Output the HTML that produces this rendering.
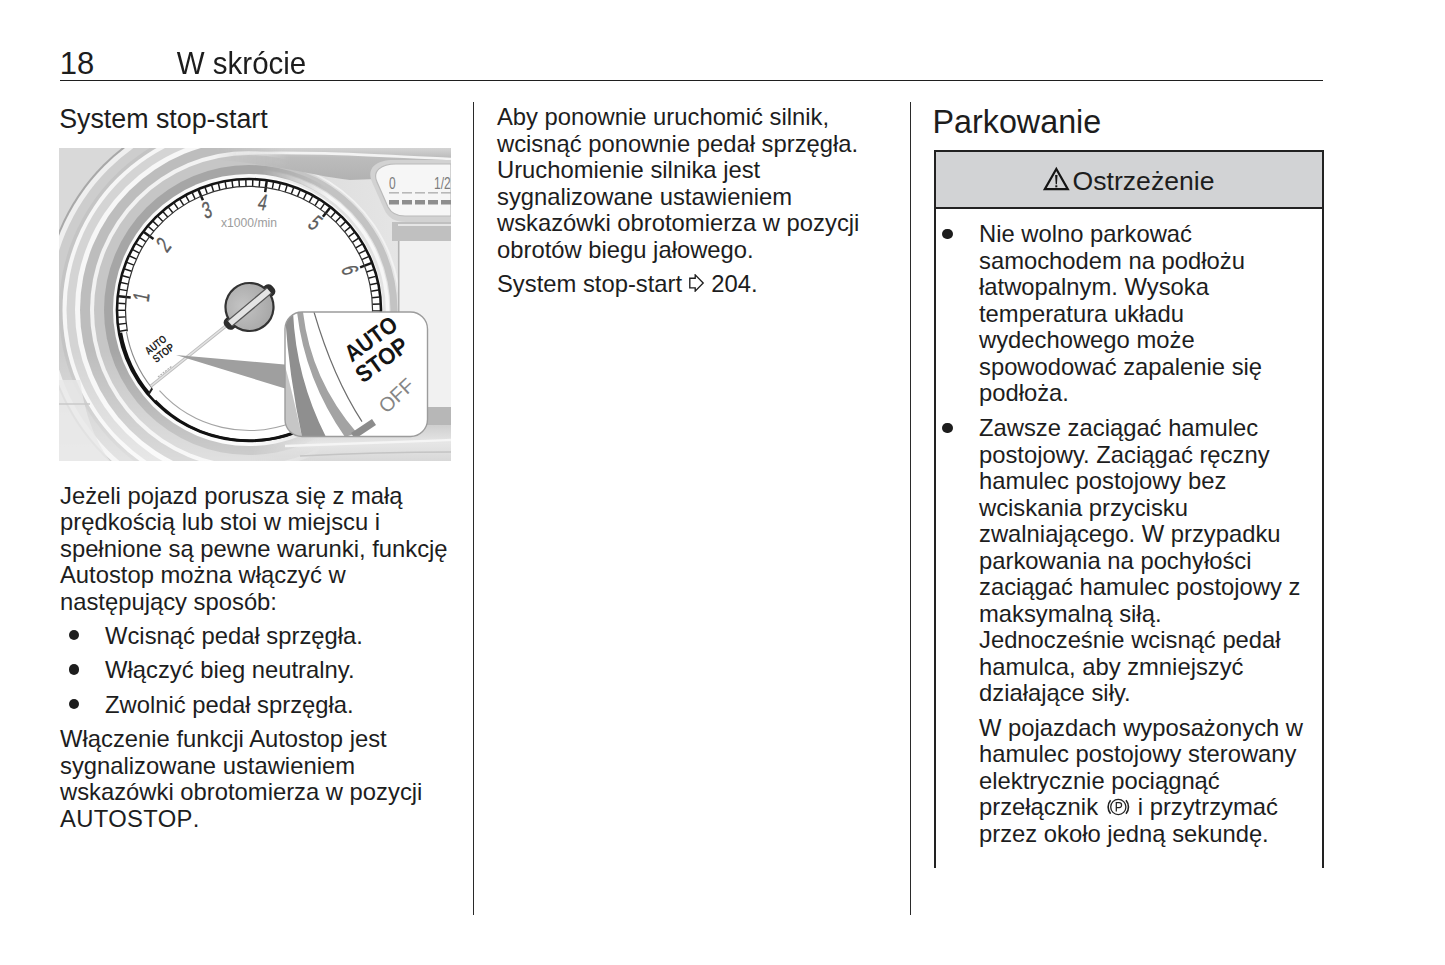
<!DOCTYPE html>
<html lang="pl">
<head>
<meta charset="utf-8">
<style>
html,body{margin:0;padding:0;background:#fff;}
body{width:1445px;height:965px;position:relative;overflow:hidden;font-family:"Liberation Sans",sans-serif;color:#1d1d1d;}
.a{position:absolute;white-space:nowrap;}
.t{position:absolute;font-size:23.8px;line-height:26.5px;white-space:nowrap;}
.t p{margin:0;}
.vl{position:absolute;background:#2a2a2a;}
.bul{position:absolute;width:10.6px;height:10.6px;margin:-0.3px 0 0 -0.3px;border-radius:50%;background:#1d1d1d;}
</style>
</head>
<body>
<!-- header -->
<div class="a" id="pn" style="left:59.8px;top:45.7px;font-size:31px;line-height:36px;">18</div>
<div class="a" id="hd" style="left:176.8px;top:45.6px;font-size:29.5px;line-height:36px;transform:scaleY(1.07);transform-origin:0 28px;">W skrócie</div>
<div class="vl" style="left:60px;top:79.6px;width:1263px;height:1.9px;background:#1f1f1f;"></div>

<!-- column dividers -->
<div class="vl" style="left:472.8px;top:102px;width:1.6px;height:813px;"></div>
<div class="vl" style="left:909.8px;top:102px;width:1.6px;height:813px;"></div>

<!-- col 1 -->
<div class="a" id="h1" style="left:59.2px;top:100.8px;font-size:26.8px;line-height:36px;">System stop-start</div>

<svg id="dash" width="392" height="313" viewBox="59 148 392 313" style="position:absolute;left:59px;top:148px;">
<defs><linearGradient id="gtop" x1="0" y1="0" x2="0" y2="1"><stop offset="0" stop-color="#cfcfcf"/><stop offset="0.35" stop-color="#b9b9b9"/><stop offset="1" stop-color="#c9c9c9"/></linearGradient><radialGradient id="hub" cx="0.4" cy="0.4" r="0.7"><stop offset="0" stop-color="#c4c4c4"/><stop offset="1" stop-color="#a4a4a4"/></radialGradient><clipPath id="ib"><rect x="285" y="312" width="142.5" height="124.5" rx="17" ry="17"/></clipPath></defs>
<rect x="59" y="148" width="392" height="313" fill="#dadada"/>
<circle cx="249.0" cy="310.0" r="260" fill="#d9d9d9"/>
<circle cx="249.0" cy="310.0" r="206" fill="#a8a8a8"/>
<circle cx="249.0" cy="310.0" r="204" fill="#efefef"/>
<circle cx="249.0" cy="310.0" r="199" fill="#cdcdcd"/>
<circle cx="249.0" cy="310.0" r="190" fill="#c4c4c4"/>
<circle cx="249.0" cy="310.0" r="186.5" fill="#f6f6f6"/>
<circle cx="249.0" cy="310.0" r="182.5" fill="#d4d4d4"/>
<circle cx="249.0" cy="310.0" r="174" fill="#f7f7f7"/>
<circle cx="249.0" cy="310.0" r="169" fill="#bdbdbd"/>
<circle cx="249.0" cy="310.0" r="159" fill="#f2f2f2"/>
<circle cx="249.0" cy="310.0" r="155" fill="#c6c6c6"/>
<circle cx="249.0" cy="310.0" r="145" fill="#a6a6a6"/>
<circle cx="249.0" cy="310.0" r="136" fill="#fafafa"/>
<defs><linearGradient id="fadeb" x1="0" y1="0" x2="0" y2="1"><stop offset="0" stop-color="#fff" stop-opacity="0"/><stop offset="1" stop-color="#fff" stop-opacity="0.45"/></linearGradient><linearGradient id="gright" x1="0" y1="0" x2="1" y2="0"><stop offset="0" stop-color="#d9d9d9"/><stop offset="1" stop-color="#e9e9e9"/></linearGradient><linearGradient id="gtopb" x1="0" y1="0" x2="0" y2="1"><stop offset="0" stop-color="#d4d4d4"/><stop offset="0.3" stop-color="#bcbcbc"/><stop offset="1" stop-color="#b2b2b2"/></linearGradient><linearGradient id="gbotr" x1="0" y1="0" x2="0" y2="1"><stop offset="0" stop-color="#cfcfcf"/><stop offset="0.5" stop-color="#e6e6e6"/><stop offset="1" stop-color="#d8d8d8"/></linearGradient></defs>
<rect x="59" y="350" width="392" height="111" fill="url(#fadeb)"/>
<path d="M59 380 L59 461 L110 461 C95 440 85 415 80 380 Z" fill="#e9e9e9" opacity="0.8"/>
<line x1="59" y1="404" x2="90" y2="404" stroke="#c9c9c9" stroke-width="1.5"/>
<defs><linearGradient id="mfade" gradientUnits="userSpaceOnUse" x1="262" y1="0" x2="330" y2="0"><stop offset="0" stop-color="#fff" stop-opacity="0"/><stop offset="1" stop-color="#fff" stop-opacity="1"/></linearGradient><mask id="mk" maskUnits="userSpaceOnUse" x="59" y="148" width="392" height="313"><rect x="59" y="148" width="392" height="313" fill="url(#mfade)"/></mask><linearGradient id="mfade2" gradientUnits="userSpaceOnUse" x1="215" y1="0" x2="290" y2="0"><stop offset="0" stop-color="#fff" stop-opacity="0"/><stop offset="1" stop-color="#fff" stop-opacity="1"/></linearGradient><mask id="mk2" maskUnits="userSpaceOnUse" x="59" y="148" width="392" height="313"><rect x="59" y="148" width="392" height="313" fill="url(#mfade2)"/></mask></defs>
<g mask="url(#mk)"><path d="M253.7 176.1 A134 134 0 0 1 379.0 342.4 L451 342.4 L451 148 L253.7 148 Z" fill="url(#gright)"/>
<path d="M259.1 165.4 A145 145 0 0 1 390.8 340.1" fill="none" stroke="#c3c3c3" stroke-width="7"/>
<path d="M258.7 171.8 A138.5 138.5 0 0 1 384.5 338.8" fill="none" stroke="#f7f7f7" stroke-width="3.5"/>
<path d="M275.2 161.3 A151 151 0 0 1 396.7 341.4" fill="none" stroke="#f2f2f2" stroke-width="2"/></g>
<path d="M200 148 L451 148 L451 176 L350 180 C330 178 305 172 280 168 C255 164 230 160 200 158 Z" fill="url(#gtopb)" mask="url(#mk2)"/>
<path d="M236 153.5 C320 151 380 156 451 159" stroke="#f3f3f3" stroke-width="2.6" fill="none" mask="url(#mk2)"/>
<path d="M451 160 L394 160 C376 160 366 168 372 182 L384 209 C388 218 395 222 406 222 L451 222 Z" fill="#d2d2d2"/>
<path d="M451 164 L396 164 C381 164 372 171 377 182 L388 207 C391 213 397 216 405 216 L451 216 Z" fill="#f6f6f6" stroke="#bababa" stroke-width="1.2"/>
<g transform="translate(389 189) scale(0.75 1)"><text x="0" y="0" font-family="Liberation Sans" font-size="16" fill="#7c7c7c">0</text></g>
<g transform="translate(434 189) scale(0.75 1)"><text x="0" y="0" font-family="Liberation Sans" font-size="16" fill="#7c7c7c">1/2</text></g>
<rect x="389.0" y="200" width="10" height="4.5" fill="#8e8e8e"/>
<rect x="389.0" y="192" width="10" height="1.6" fill="#b8b8b8"/>
<rect x="402.0" y="200" width="10" height="4.5" fill="#8e8e8e"/>
<rect x="402.0" y="192" width="10" height="1.6" fill="#b8b8b8"/>
<rect x="415.0" y="200" width="10" height="4.5" fill="#8e8e8e"/>
<rect x="415.0" y="192" width="10" height="1.6" fill="#b8b8b8"/>
<rect x="428.0" y="200" width="10" height="4.5" fill="#8e8e8e"/>
<rect x="428.0" y="192" width="10" height="1.6" fill="#b8b8b8"/>
<rect x="441.0" y="200" width="10" height="4.5" fill="#8e8e8e"/>
<rect x="441.0" y="192" width="10" height="1.6" fill="#b8b8b8"/>
<rect x="392" y="222" width="59" height="19" fill="#c0c0c0"/>
<line x1="398" y1="225" x2="451" y2="225" stroke="#e6e6e6" stroke-width="2"/>
<rect x="398" y="241" width="53" height="166" fill="#f1f1f1"/>
<line x1="398.7" y1="241" x2="398.7" y2="407" stroke="#b3b3b3" stroke-width="1.6"/>
<rect x="398" y="407" width="53" height="18" fill="#b7b7b7"/>
<defs><linearGradient id="mfade3" gradientUnits="userSpaceOnUse" x1="250" y1="0" x2="320" y2="0"><stop offset="0" stop-color="#fff" stop-opacity="0"/><stop offset="1" stop-color="#fff" stop-opacity="1"/></linearGradient><mask id="mk3" maskUnits="userSpaceOnUse" x="59" y="148" width="392" height="313"><rect x="59" y="148" width="392" height="313" fill="url(#mfade3)"/></mask></defs>
<rect x="230" y="425" width="221" height="36" fill="url(#gbotr)" mask="url(#mk3)"/>
<path d="M285 446 C350 444 400 442 451 440" stroke="#f5f5f5" stroke-width="2.5" fill="none"/>
<path d="M300 456 C360 453 410 452 451 452" stroke="#c4c4c4" stroke-width="1.5" fill="none"/>
<ellipse cx="249.0" cy="310.0" rx="132" ry="131" fill="#ffffff"/>
<ellipse cx="249.0" cy="310.0" rx="132" ry="131" fill="none" stroke="#141414" stroke-width="2.6"/>
<line x1="119.7" y1="331.2" x2="127.1" y2="330.0" stroke="#1a1a1a" stroke-width="1.45"/>
<line x1="118.8" y1="324.2" x2="126.2" y2="323.4" stroke="#1a1a1a" stroke-width="1.45"/>
<line x1="118.2" y1="317.3" x2="125.7" y2="316.9" stroke="#1a1a1a" stroke-width="1.45"/>
<line x1="118.0" y1="310.3" x2="125.5" y2="310.3" stroke="#1a1a1a" stroke-width="1.45"/>
<line x1="118.2" y1="303.3" x2="125.7" y2="303.7" stroke="#1a1a1a" stroke-width="1.45"/>
<line x1="118.7" y1="296.3" x2="130.7" y2="297.6" stroke="#1a1a1a" stroke-width="2.5"/>
<line x1="119.6" y1="289.4" x2="127.0" y2="290.6" stroke="#1a1a1a" stroke-width="1.45"/>
<line x1="120.9" y1="282.5" x2="128.3" y2="284.1" stroke="#1a1a1a" stroke-width="1.45"/>
<line x1="122.6" y1="275.7" x2="129.8" y2="277.7" stroke="#1a1a1a" stroke-width="1.45"/>
<line x1="124.6" y1="269.0" x2="131.7" y2="271.3" stroke="#1a1a1a" stroke-width="1.45"/>
<line x1="126.9" y1="262.4" x2="133.9" y2="265.1" stroke="#1a1a1a" stroke-width="1.45"/>
<line x1="129.7" y1="256.0" x2="136.5" y2="259.1" stroke="#1a1a1a" stroke-width="1.45"/>
<line x1="132.7" y1="249.7" x2="139.4" y2="253.1" stroke="#1a1a1a" stroke-width="1.45"/>
<line x1="136.1" y1="243.6" x2="142.6" y2="247.4" stroke="#1a1a1a" stroke-width="1.45"/>
<line x1="139.8" y1="237.6" x2="146.1" y2="241.8" stroke="#1a1a1a" stroke-width="1.45"/>
<line x1="143.8" y1="231.9" x2="153.5" y2="239.0" stroke="#1a1a1a" stroke-width="2.5"/>
<line x1="148.2" y1="226.4" x2="153.9" y2="231.2" stroke="#1a1a1a" stroke-width="1.45"/>
<line x1="152.8" y1="221.1" x2="158.3" y2="226.2" stroke="#1a1a1a" stroke-width="1.45"/>
<line x1="157.6" y1="216.1" x2="162.9" y2="221.5" stroke="#1a1a1a" stroke-width="1.45"/>
<line x1="162.8" y1="211.4" x2="167.7" y2="217.0" stroke="#1a1a1a" stroke-width="1.45"/>
<line x1="168.2" y1="206.9" x2="172.8" y2="212.8" stroke="#1a1a1a" stroke-width="1.45"/>
<line x1="173.8" y1="202.7" x2="178.1" y2="208.9" stroke="#1a1a1a" stroke-width="1.45"/>
<line x1="179.6" y1="198.9" x2="183.6" y2="205.2" stroke="#1a1a1a" stroke-width="1.45"/>
<line x1="185.6" y1="195.3" x2="189.3" y2="201.9" stroke="#1a1a1a" stroke-width="1.45"/>
<line x1="191.9" y1="192.1" x2="195.1" y2="198.9" stroke="#1a1a1a" stroke-width="1.45"/>
<line x1="198.2" y1="189.2" x2="202.9" y2="200.3" stroke="#1a1a1a" stroke-width="2.5"/>
<line x1="204.8" y1="186.7" x2="207.3" y2="193.8" stroke="#1a1a1a" stroke-width="1.45"/>
<line x1="211.4" y1="184.5" x2="213.6" y2="191.7" stroke="#1a1a1a" stroke-width="1.45"/>
<line x1="218.2" y1="182.7" x2="219.9" y2="190.0" stroke="#1a1a1a" stroke-width="1.45"/>
<line x1="225.0" y1="181.2" x2="226.4" y2="188.6" stroke="#1a1a1a" stroke-width="1.45"/>
<line x1="231.9" y1="180.1" x2="232.9" y2="187.6" stroke="#1a1a1a" stroke-width="1.45"/>
<line x1="238.9" y1="179.4" x2="239.4" y2="186.9" stroke="#1a1a1a" stroke-width="1.45"/>
<line x1="245.8" y1="179.0" x2="246.0" y2="186.5" stroke="#1a1a1a" stroke-width="1.45"/>
<line x1="252.8" y1="179.1" x2="252.6" y2="186.6" stroke="#1a1a1a" stroke-width="1.45"/>
<line x1="259.8" y1="179.4" x2="259.2" y2="186.9" stroke="#1a1a1a" stroke-width="1.45"/>
<line x1="266.8" y1="180.2" x2="265.2" y2="192.1" stroke="#1a1a1a" stroke-width="2.5"/>
<line x1="273.7" y1="181.3" x2="272.3" y2="188.7" stroke="#1a1a1a" stroke-width="1.45"/>
<line x1="280.5" y1="182.8" x2="278.7" y2="190.1" stroke="#1a1a1a" stroke-width="1.45"/>
<line x1="287.3" y1="184.7" x2="285.1" y2="191.9" stroke="#1a1a1a" stroke-width="1.45"/>
<line x1="293.9" y1="186.9" x2="291.3" y2="194.0" stroke="#1a1a1a" stroke-width="1.45"/>
<line x1="300.4" y1="189.5" x2="297.5" y2="196.4" stroke="#1a1a1a" stroke-width="1.45"/>
<line x1="306.8" y1="192.4" x2="303.4" y2="199.2" stroke="#1a1a1a" stroke-width="1.45"/>
<line x1="312.9" y1="195.7" x2="309.3" y2="202.2" stroke="#1a1a1a" stroke-width="1.45"/>
<line x1="319.0" y1="199.2" x2="315.0" y2="205.6" stroke="#1a1a1a" stroke-width="1.45"/>
<line x1="324.8" y1="203.1" x2="320.4" y2="209.3" stroke="#1a1a1a" stroke-width="1.45"/>
<line x1="330.4" y1="207.3" x2="322.9" y2="216.7" stroke="#1a1a1a" stroke-width="2.5"/>
<line x1="335.7" y1="211.8" x2="330.8" y2="217.4" stroke="#1a1a1a" stroke-width="1.45"/>
<line x1="340.9" y1="216.6" x2="335.6" y2="221.9" stroke="#1a1a1a" stroke-width="1.45"/>
<line x1="345.7" y1="221.6" x2="340.2" y2="226.7" stroke="#1a1a1a" stroke-width="1.45"/>
<line x1="350.3" y1="226.9" x2="344.5" y2="231.7" stroke="#1a1a1a" stroke-width="1.45"/>
<line x1="354.6" y1="232.4" x2="348.5" y2="236.9" stroke="#1a1a1a" stroke-width="1.45"/>
<line x1="358.6" y1="238.2" x2="352.3" y2="242.3" stroke="#1a1a1a" stroke-width="1.45"/>
<line x1="362.2" y1="244.1" x2="355.8" y2="247.9" stroke="#1a1a1a" stroke-width="1.45"/>
<line x1="365.6" y1="250.3" x2="358.9" y2="253.7" stroke="#1a1a1a" stroke-width="1.45"/>
<line x1="368.6" y1="256.6" x2="361.8" y2="259.6" stroke="#1a1a1a" stroke-width="1.45"/>
<line x1="371.3" y1="263.1" x2="360.1" y2="267.4" stroke="#1a1a1a" stroke-width="2.5"/>
<line x1="373.6" y1="269.6" x2="366.5" y2="272.0" stroke="#1a1a1a" stroke-width="1.45"/>
<line x1="375.6" y1="276.4" x2="368.4" y2="278.3" stroke="#1a1a1a" stroke-width="1.45"/>
<line x1="377.2" y1="283.2" x2="369.9" y2="284.7" stroke="#1a1a1a" stroke-width="1.45"/>
<line x1="378.5" y1="290.0" x2="371.1" y2="291.2" stroke="#1a1a1a" stroke-width="1.45"/>
<line x1="379.4" y1="297.0" x2="371.9" y2="297.7" stroke="#1a1a1a" stroke-width="1.45"/>
<line x1="379.9" y1="304.0" x2="372.4" y2="304.3" stroke="#1a1a1a" stroke-width="1.45"/>
<line x1="380.0" y1="311.0" x2="372.5" y2="310.9" stroke="#1a1a1a" stroke-width="1.45"/>
<line x1="379.8" y1="318.0" x2="372.3" y2="317.5" stroke="#1a1a1a" stroke-width="1.45"/>
<line x1="379.1" y1="324.9" x2="371.7" y2="324.1" stroke="#1a1a1a" stroke-width="1.45"/>
<line x1="378.2" y1="331.8" x2="366.3" y2="329.8" stroke="#1a1a1a" stroke-width="2.5"/>
<path d="M127.4 331.4 A123.5 123.5 0 1 1 369.8 335.7" fill="none" stroke="#333" stroke-width="1.2"/>
<path d="M120.5 332.7 A130.5 130.5 0 0 0 149.0 393.9" fill="none" stroke="#111" stroke-width="3.4"/>
<path d="M126.4 331.6 A124.5 124.5 0 0 0 152.2 388.4" fill="none" stroke="#8a8a8a" stroke-width="1.1"/>
<path d="M148.6 394.2 L152.2 388.4" stroke="#222" stroke-width="2"/>
<path d="M155.1 400.7 A130.5 130.5 0 0 0 314.2 423.0" fill="none" stroke="#111" stroke-width="2.6"/>
<path d="M159.5 390.6 A120.5 120.5 0 0 0 294.1 421.7" fill="none" stroke="#a4a4a4" stroke-width="1.1"/>
<g transform="translate(140.8 296.7) rotate(-83.0) scale(0.68 1) skewX(-8)"><text x="0" y="8.3" font-family="Liberation Sans" font-size="23" fill="#5c5c5c" stroke="#5c5c5c" stroke-width="0.35" text-anchor="middle">1</text></g>
<g transform="translate(163.2 244.4) rotate(-52.6) scale(0.68 1) skewX(-8)"><text x="0" y="8.3" font-family="Liberation Sans" font-size="23" fill="#5c5c5c" stroke="#5c5c5c" stroke-width="0.35" text-anchor="middle">2</text></g>
<g transform="translate(206.8 209.5) rotate(-22.8) scale(0.68 1) skewX(-8)"><text x="0" y="8.3" font-family="Liberation Sans" font-size="23" fill="#5c5c5c" stroke="#5c5c5c" stroke-width="0.35" text-anchor="middle">3</text></g>
<g transform="translate(263.0 201.9) rotate(7.4) scale(0.68 1) skewX(-8)"><text x="0" y="8.3" font-family="Liberation Sans" font-size="23" fill="#5c5c5c" stroke="#5c5c5c" stroke-width="0.35" text-anchor="middle">4</text></g>
<g transform="translate(315.7 222.5) rotate(37.3) scale(0.68 1) skewX(-8)"><text x="0" y="8.3" font-family="Liberation Sans" font-size="23" fill="#5c5c5c" stroke="#5c5c5c" stroke-width="0.35" text-anchor="middle">5</text></g>
<g transform="translate(350.4 270.1) rotate(68.5) scale(0.68 1) skewX(-8)"><text x="0" y="8.3" font-family="Liberation Sans" font-size="23" fill="#5c5c5c" stroke="#5c5c5c" stroke-width="0.35" text-anchor="middle">6</text></g>
<text x="249" y="226.5" font-family="Liberation Sans" font-size="12" fill="#9c9c9c" text-anchor="middle" textLength="56" lengthAdjust="spacingAndGlyphs">x1000/min</text>
<g transform="translate(159 349) rotate(-38)"><text x="0" y="-1.5" font-family="Liberation Sans" font-size="11" fill="#222" text-anchor="middle" font-weight="bold" textLength="24" lengthAdjust="spacingAndGlyphs">AUTO</text><text x="1" y="9.5" font-family="Liberation Sans" font-size="11" fill="#222" text-anchor="middle" font-weight="bold" textLength="24" lengthAdjust="spacingAndGlyphs">STOP</text></g>
<line x1="158" y1="377" x2="172" y2="366" stroke="#b0b0b0" stroke-width="1.2" stroke-dasharray="2 1"/>
<line x1="262" y1="297" x2="151" y2="386" stroke="#bdbdbd" stroke-width="3.4"/>
<line x1="262" y1="297" x2="151" y2="386" stroke="#e2e2e2" stroke-width="1.6"/>
<g transform="rotate(-40 249.5 307)"><rect x="218.5" y="300.5" width="62" height="13" rx="5" fill="#2e2e2e"/><circle cx="249.5" cy="307" r="24" fill="url(#hub)" stroke="#333" stroke-width="2.2"/><rect x="224" y="303.5" width="51" height="7" fill="#e4e4e4"/><line x1="224" y1="303.5" x2="275" y2="303.5" stroke="#555" stroke-width="1.2"/><line x1="224" y1="310.5" x2="275" y2="310.5" stroke="#555" stroke-width="1.2"/></g>
<path d="M176 355 L290 365 L290 390 Z" fill="#9f9f9f"/>
<rect x="285" y="312" width="142.5" height="124.5" rx="17" ry="17" fill="#ffffff"/>
<g clip-path="url(#ib)">
<path d="M280 350 Q289 376 302 437 L280 437 Z" fill="#c6c6c6"/>
<path d="M285 316 Q289 376 302 437 L326 437 Q296 378 293 312 L286 312 Z" fill="#8f8f8f"/>
<path d="M297 312 Q305 380 345 437 L357 433 Q311 380 303 312 Z" fill="#a3a3a3"/>
<path d="M314 312 Q333 377 362 421.6" fill="none" stroke="#6e6e6e" stroke-width="1.2"/>
<path d="M351 433 L372 419 L376 425 L355 439 Z" fill="#8c8c8c"/>
</g>
<rect x="285" y="312" width="142.5" height="124.5" rx="17" ry="17" fill="none" stroke="#9c9c9c" stroke-width="1.4"/>
<g transform="translate(370.5 338.5) rotate(-36)"><text x="0" y="8.5" font-family="Liberation Sans" font-size="23.5" font-weight="bold" fill="#141414" text-anchor="middle" textLength="59" lengthAdjust="spacingAndGlyphs">AUTO</text></g>
<g transform="translate(381.5 359.5) rotate(-36)"><text x="0" y="8.5" font-family="Liberation Sans" font-size="23.5" font-weight="bold" fill="#141414" text-anchor="middle" textLength="59" lengthAdjust="spacingAndGlyphs">STOP</text></g>
<g transform="translate(396 395) rotate(-43)"><text x="0" y="7.5" font-family="Liberation Sans" font-size="20" fill="#858585" text-anchor="middle" textLength="40" lengthAdjust="spacingAndGlyphs">OFF</text></g>
</svg>

<div class="t" id="c1p1" style="left:60px;top:482.6px;">Jeżeli pojazd porusza się z małą<br>prędkością lub stoi w miejscu i<br>spełnione są pewne warunki, funkcję<br>Autostop można włączyć w<br>następujący sposób:</div>
<div class="bul" style="left:69px;top:630px;"></div>
<div class="t" style="left:105px;top:622.9px;">Wcisnąć pedał sprzęgła.</div>
<div class="bul" style="left:69px;top:664.5px;"></div>
<div class="t" style="left:105px;top:657px;">Włączyć bieg neutralny.</div>
<div class="bul" style="left:69px;top:699px;"></div>
<div class="t" style="left:105px;top:691.8px;">Zwolnić pedał sprzęgła.</div>
<div class="t" style="left:60px;top:726.1px;">Włączenie funkcji Autostop jest<br>sygnalizowane ustawieniem<br>wskazówki obrotomierza w pozycji<br><span style="letter-spacing:0.35px">AUTOSTOP</span>.</div>

<!-- col 2 -->
<div class="t" style="left:497px;top:104.1px;">Aby ponownie uruchomić silnik,<br>wcisnąć ponownie pedał sprzęgła.<br>Uruchomienie silnika jest<br>sygnalizowane ustawieniem<br>wskazówki obrotomierza w pozycji<br>obrotów biegu jałowego.</div>
<div class="t" style="left:497px;top:271.2px;">System stop-start <svg width="16" height="18" viewBox="0 0 16 18" style="vertical-align:0px;"><path d="M0.8 4.2 L6.2 4.2 L6.2 0.9 L14.2 9 L6.2 17.1 L6.2 13.8 L0.8 13.8 Z" fill="none" stroke="#1d1d1d" stroke-width="1.35" stroke-linejoin="miter"/></svg> 204.</div>

<!-- col 3 -->
<div class="a" id="h3" style="left:932.5px;top:103.6px;font-size:32.3px;line-height:36px;">Parkowanie</div>
<div style="position:absolute;left:934px;top:150px;width:389px;height:59px;background:#d2d3d5;border-top:2px solid #222;border-bottom:2px solid #222;box-sizing:border-box;"></div>
<div class="vl" style="left:934px;top:150px;width:2px;height:718px;background:#222;"></div>
<div class="vl" style="left:1322px;top:150px;width:2px;height:718px;background:#222;"></div>
<svg style="position:absolute;left:1041px;top:165px;" width="31" height="27" viewBox="0 0 31 27"><path d="M15.3 4.0 L3.8 24.15 L26.8 24.15 Z" fill="none" stroke="#151515" stroke-width="2.2" stroke-linejoin="miter"/><path d="M14.1 10 L16.5 10 L15.9 19.2 L14.7 19.2 Z" fill="#151515"/><rect x="14.3" y="20.3" width="2" height="2" fill="#151515"/></svg><div class="a" style="left:1072.6px;top:165.3px;font-size:26.6px;line-height:32px;">Ostrzeżenie</div>

<div class="bul" style="left:942.5px;top:229px;"></div>
<div class="t" style="left:979px;top:221.2px;">Nie wolno parkować<br>samochodem na podłożu<br>łatwopalnym. Wysoka<br>temperatura układu<br>wydechowego może<br>spowodować zapalenie się<br>podłoża.</div>
<div class="bul" style="left:942.5px;top:423px;"></div>
<div class="t" style="left:979px;top:415.2px;">Zawsze zaciągać hamulec<br>postojowy. Zaciągać ręczny<br>hamulec postojowy bez<br>wciskania przycisku<br>zwalniającego. W przypadku<br>parkowania na pochyłości<br>zaciągać hamulec postojowy z<br>maksymalną siłą.<br>Jednocześnie wcisnąć pedał<br>hamulca, aby zmniejszyć<br>działające siły.</div>
<div class="t" style="left:979px;top:714.5px;">W pojazdach wyposażonych w<br>hamulec postojowy sterowany<br>elektrycznie pociągnąć<br>przełącznik <svg width="26.5" height="18" viewBox="0 0 26.5 18" style="vertical-align:-1.3px;"><circle cx="13.3" cy="9" r="7.6" fill="none" stroke="#222" stroke-width="1.3"/><path d="M5.6 2.2 A10.6 10.6 0 0 0 5.6 15.8 M21 2.2 A10.6 10.6 0 0 1 21 15.8" fill="none" stroke="#222" stroke-width="1.6"/><path d="M11.3 13.5 V4.6 H14.1 A2.5 2.5 0 0 1 14.1 9.6 H11.3" fill="none" stroke="#222" stroke-width="1.25"/></svg> i przytrzymać<br>przez około jedną sekundę.</div>
</body>
</html>
